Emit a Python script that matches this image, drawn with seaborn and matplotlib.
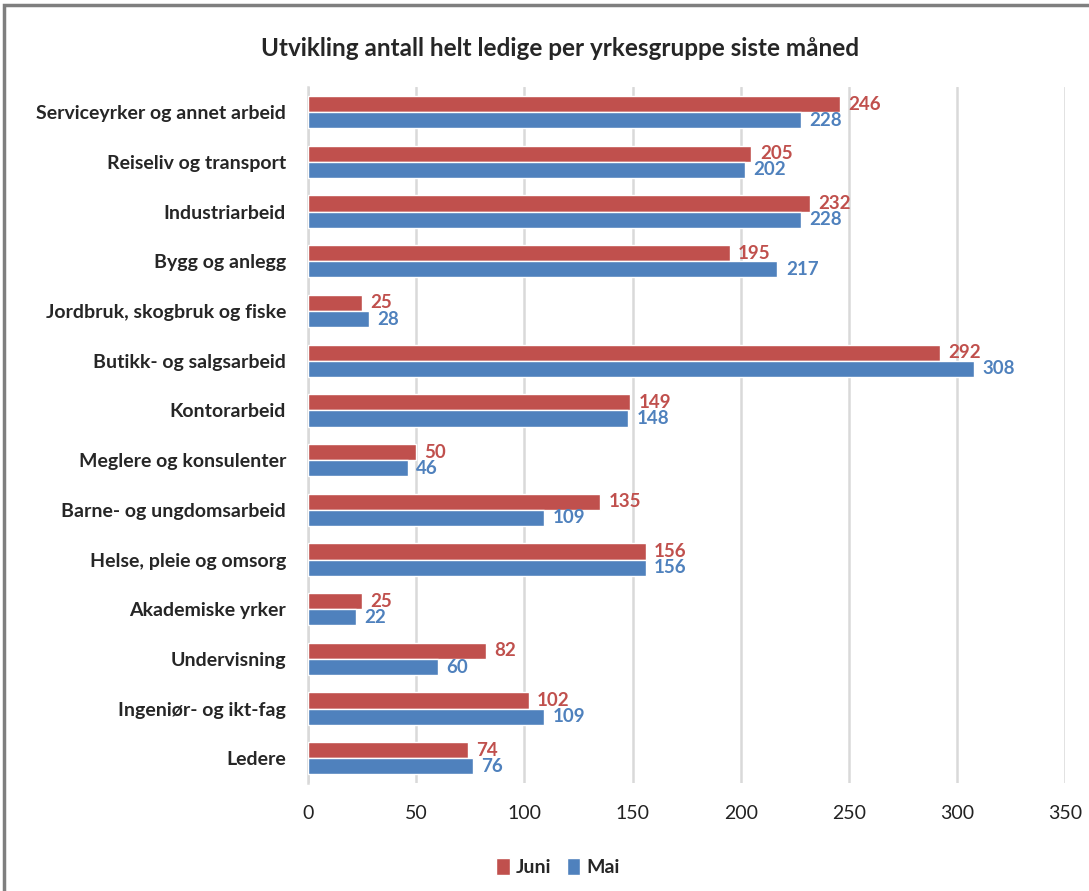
import pandas as pd
import matplotlib
matplotlib.use('Agg')
import matplotlib.pyplot as plt
import seaborn as sns

# data
kategorier = ['Serviceyrker og annet arbeid', 'Reiseliv og transport', 'Industriarbeid',
              'Bygg og anlegg', 'Jordbruk, skogbruk og fiske', 'Butikk- og salgsarbeid',
              'Kontorarbeid', 'Meglere og konsulenter', 'Barne- og ungdomsarbeid',
              'Helse, pleie og omsorg', 'Akademiske yrker', 'Undervisning',
              'Ingeniør- og ikt-fag', 'Ledere']
juni = [246, 205, 232, 195, 25, 292, 149, 50, 135, 156, 25, 82, 102, 74]
mai = [228, 202, 228, 217, 28, 308, 148, 46, 109, 156, 22, 60, 109, 76]
x_ticks = [0, 50, 100, 150, 200, 250, 300, 350]

df = pd.DataFrame({
    'kategori': kategorier * 2,
    'verdi': juni + mai,
    'maaned': ['Juni'] * len(juni) + ['Mai'] * len(mai),
})

sns.set_style('white')
plt.rcParams['font.family'] = ['Lato', 'DejaVu Sans']

farger = {'Juni': '#C0504D', 'Mai': '#4F81BD'}

fig = plt.figure(figsize=(10.89, 8.91), dpi=100)
ax = fig.add_axes([0.283, 0.121, 0.695, 0.781])

sns.barplot(data=df, x='verdi', y='kategori', hue='maaned', order=kategorier,
            hue_order=['Juni', 'Mai'], palette=farger, orient='h', width=0.65,
            saturation=1, ax=ax, zorder=3)

# verdier ved enden av stolpene
for cont, navn in zip(ax.containers, ['Juni', 'Mai']):
    ax.bar_label(cont, padding=6, color=farger[navn], fontsize=13.5, fontweight='bold')

ax.set_xlim(0, 350)
ax.set_xticks(x_ticks)
ax.set_xlabel('')
ax.set_ylabel('')
ax.grid(axis='x', color='#D9D9D9', linewidth=1.8, zorder=0)
ax.set_axisbelow(True)
for s in ['top', 'right', 'bottom']:
    ax.spines[s].set_visible(False)
ax.spines['left'].set_color('#D9D9D9')
ax.spines['left'].set_linewidth(1.8)
ax.tick_params(axis='x', length=0, pad=16, labelsize=14, colors='#222222')
ax.tick_params(axis='y', length=0, pad=16, labelsize=14)
for t in ax.get_yticklabels():
    t.set_fontweight('bold')

fig.suptitle('Utvikling antall helt ledige per yrkesgruppe siste måned',
             x=0.514, y=0.958, fontsize=17.5, fontweight='bold')

leg = ax.legend(loc='upper center', bbox_to_anchor=(0.33, -0.083), ncol=2, frameon=False,
                fontsize=14, handlelength=0.7, handleheight=0.9, handletextpad=0.3,
                columnspacing=0.8)
for t in leg.get_texts():
    t.set_fontweight('bold')

# ramme rundt figuren
fig.patches.append(plt.Rectangle((0.004, -0.01), 1.1, 1.004, transform=fig.transFigure,
                                 fill=False, edgecolor='#7F7F7F', linewidth=2.5))

fig.savefig('out.png', dpi=100)
